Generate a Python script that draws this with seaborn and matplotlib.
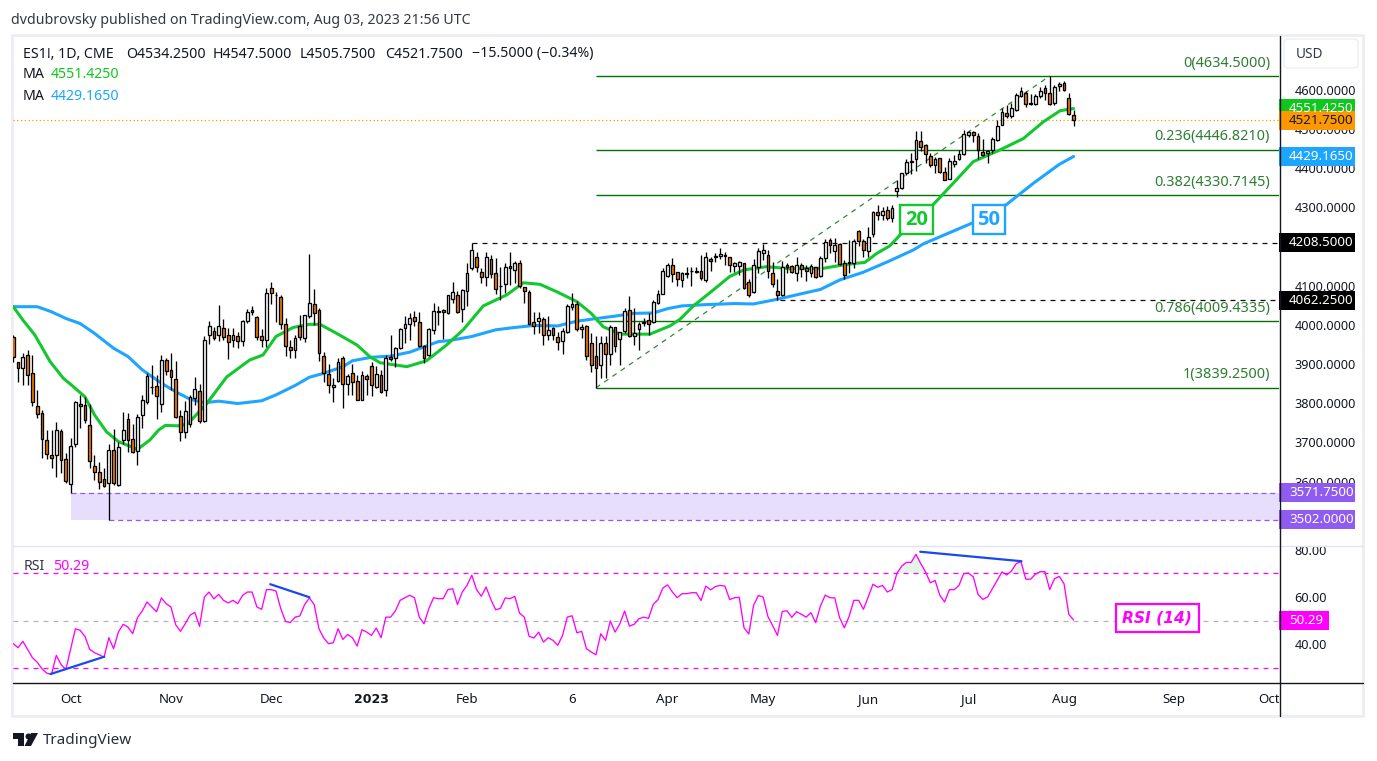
import numpy as np
import pandas as pd
import matplotlib
matplotlib.use("Agg")
import matplotlib.pyplot as plt
from matplotlib.patches import Rectangle, Circle, Polygon, FancyBboxPatch
from matplotlib.transforms import blended_transform_factory, Bbox
import seaborn as sns

opens = [3969,3904,3889,3922,3878,3792,3776,3705,3667,3667,
 3728,3657,3593,3695,3799,3794,3743,3639,3624,3606,
 3596,3680,3590,3705,3759,3708,3677,3769,3802,3840,
 3843,3797,3909,3884,3861,3766,3726,3748,3812,3830,
 3755,3973,3983,3973,3991,3975,3960,3970,3958,4009,
 4037,4019,3970,3960,4093,4077,4072,4003,3942,3935,
 3996,3965,4021,4053,4037,3919,3874,3840,3856,3914,
 3848,3876,3856,3809,3868,3894,3840,3871,3833,3917,
 3914,3940,3991,4001,4019,4006,3945,3924,3986,4034,
 4037,4029,4065,4075,4039,4085,4144,4174,4134,4123,
 4167,4131,4100,4103,4149,4139,4157,4095,4083,4006,
 4009,4014,3975,3991,3968,3958,3981,4046,4052,3988,
 3996,3953,3921,3896,3953,3925,3994,3963,3983,4037,
 3970,3988,4007,4011,4006,4056,4079,4125,4152,4134,
 4113,4131,4136,4135,4136,4115,4167,4175,4175,4177,
 4172,4151,4149,4157,4108,4083,4148,4184,4177,4131,
 4085,4075,4152,4149,4131,4152,4144,4131,4146,4124,
 4169,4215,4187,4205,4157,4157,4157,4238,4213,4187,
 4231,4287,4279,4292,4271,4340,4348,4386,4416,4422,
 4468,4458,4430,4408,4425,4389,4373,4411,4422,4435,
 4483,4491,4481,4440,4437,4445,4470,4509,4539,4533,
 4549,4583,4592,4565,4562,4583,4603,4592,4565,4608,4616,4578,4534.25]
closes = [3917,3889,3917,3872,3804,3772,3708,3669,3659,3731,
 3654,3601,3690,3802,3792,3756,3652,3624,3598,3588,
 3680,3596,3687,3731,3705,3675,3764,3807,3868,3841,
 3817,3909,3881,3866,3765,3726,3779,3815,3835,3754,
 3960,3998,3965,3998,3968,3955,3973,3958,4009,4032,
 4032,3968,3960,4080,4080,4075,4001,3945,3935,3965,
 3968,4024,4055,4029,3927,3878,3845,3847,3904,3848,
 3868,3853,3807,3871,3861,3845,3874,3828,3914,3912,
 3940,3988,4001,4016,4009,3945,3914,3988,4034,4032,
 4032,4075,4083,4032,4088,4131,4190,4146,4123,4174,
 4129,4090,4098,4146,4144,4157,4098,4085,4003,3998,
 4016,3975,3986,3975,3955,3983,4049,4052,3988,3993,
 3919,3896,3889,3953,3925,3994,3945,3981,4034,3970,
 3978,4001,4004,4001,4058,4079,4137,4152,4129,4116,
 4131,4129,4138,4136,4118,4172,4162,4172,4180,4175,
 4152,4157,4159,4093,4075,4152,4187,4190,4138,4105,
 4075,4148,4146,4134,4152,4141,4136,4149,4121,4169,
 4210,4203,4203,4154,4126,4159,4213,4213,4190,4225,
 4287,4279,4290,4272,4297,4348,4386,4414,4417,4470,
 4453,4435,4408,4422,4389,4368,4417,4417,4435,4486,
 4491,4483,4445,4432,4442,4473,4506,4542,4533,4552,
 4585,4595,4562,4562,4583,4595,4592,4562,4606,4613,4600,4537.25,4521.75]
highs = [3975,3906,3927,3935,3924,3833,3782,3731,3731,3751,
 3734,3672,3710,3805,3820,3816,3799,3668,3651,3634,
 3697,3733,3702,3777,3774,3746,3772,3821,3876,3896,
 3872,3923,3914,3927,3907,3782,3805,3822,3866,3848,
 3972,4009,3993,4050,4015,3991,3991,3982,4012,4039,
 4048,4022,3988,4093,4108,4084,4076,4016,3961,3975,
 4025,4025,4180,4090,4042,3931,3899,3863,3914,3919,
 3874,3899,3872,3883,3874,3906,3895,3885,3923,3973,
 3944,3991,4021,4029,4035,4032,3948,3991,4055,4048,
 4039,4076,4108,4087,4090,4158,4208.5,4186,4144,4186,
 4178,4169,4148,4157,4185,4163,4165,4097,4089,4033,
 4033,4019,4022,3995,3982,3991,4053,4080,4060,4003,
 3999,3978,3970,3971,3971,4000,3995,3982,4042,4073,
 4042,4008,4016,4029,4063,4089,4144,4157,4169,4135,
 4135,4146,4148,4148,4178,4185,4174,4182,4197,4186,
 4174,4161,4163,4157,4116,4167,4195,4206,4191,4161,
 4116,4162,4158,4152,4172,4157,4152,4155,4148,4175,
 4218,4220,4220,4209,4165,4216,4219,4242,4218,4250,
 4290,4305,4300,4303,4305,4369,4388,4422,4437,4493,
 4494,4461,4437,4429,4425,4402,4425,4433,4446,4497,
 4495,4495,4488,4475,4446,4480,4522,4552,4561,4566,
 4590,4607,4595,4588,4589,4607,4612,4634.5,4612,4620,4622,4592,4547.5]
lows = [3906,3855,3846,3846,3793,3761,3661,3657,3635,3612,
 3623,3597,3571.75,3687,3736,3750,3634,3604,3580,3587,
 3502,3591,3589,3696,3676,3672,3643,3737,3798,3823,
 3759,3778,3873,3833,3761,3704,3710,3740,3795,3750,
 3753,3952,3961,3959,3961,3913,3944,3940,3946,4004,
 4026,3961,3942,3944,4054,4008,3988,3921,3914,3914,
 3961,3957,4016,3999,3908,3855,3827,3804,3853,3788,
 3821,3821,3807,3808,3821,3817,3838,3825,3819,3908,
 3893,3937,3954,3961,3997,3942,3903,3919,3976,3999,
 3964,4027,4055,4029,4008,4049,4140,4135,4106,4100,
 4118,4078,4062,4080,4101,4106,4093,4056,4002,3977,
 3978,3948,3961,3961,3936,3925,3978,4038,3985,3965,
 3910,3880,3839.25,3864,3865,3896,3931,3897,3978,3968,
 3948,3936,3997,3974,4004,4053,4078,4123,4110,4100,
 4097,4118,4099,4131,4114,4109,4138,4161,4167,4152,
 4135,4135,4127,4091,4070,4080,4131,4165,4118,4097,
 4062.25,4073,4131,4131,4112,4121,4112,4121,4119,4121,
 4161,4182,4161,4152,4116,4131,4144,4201,4174,4174,
 4225,4267,4267,4267,4263,4327,4346,4382,4384,4393,
 4442,4412,4403,4386,4386,4368,4372,4402,4420,4434,
 4480,4467,4422,4431,4412,4439,4469,4509,4527,4527,
 4546,4580,4556,4561,4561,4578,4573,4561,4561,4595,4595,4535,4505.75]

ma50_bars = [1,6,9,12,15,18,22,25,28,32,35,38,41,44,48,53,56,60,63,66,70,72,76,80,84,90,92,97,102,106,110,115,119,122,127,131,135,138,141,145.5,152,156,161,166,170,174,179,184.5,189.5,191.5,201.7,209,214.6,220,223]
ma50_vals = [4046,4046,4033,4016,4003,3978,3940,3919,3885,3851,3829,3810,3801,3805,3799,3806,3821,3845,3866,3876,3893,3908,3917,3920,3930,3957,3959,3970,3987,3993,3998,3997,4009,4014,4022,4029,4030,4041,4048,4051,4054,4053,4065,4079,4090,4114,4134,4163,4191,4206,4259,4307,4361,4409,4429.165]
ma20_bars = [1,3,5.5,8.7,11.5,13.2,16,18,20.5,23,27,29.6,31.4,32.8,35.9,37.6,41.5,45.7,50.5,53.3,56,59.6,63,65.2,68.7,73,75.7,77.8,83.4,87.5,91.7,95.2,99.4,104.3,107.8,111.3,114.8,119,122,124.5,128,134.3,138.5,140.6,143.4,147.6,151,154,158.7,163.6,170.6,175.5,179.3,181.8,184.5,187,193.5,197.8,202,207.6,212.5,216.7,220.2,223]
ma20_vals = [4046,4012,3974,3906,3863,3846,3816,3770,3727,3702,3682,3706,3731,3743,3742,3748,3799,3867,3910,3923,3970,3993,4001,4001,3978,3948,3918,3903,3893,3908,3948,3987,4048,4076,4107,4103,4084,4059,4029,3995,3976,3976,3997,4014,4048,4089,4123,4140,4148,4143,4144,4154,4159,4182,4201,4233,4305,4361,4416,4446,4475,4518,4546,4551.425]

rsi_vals = [40.3,38.6,41.3,37.9,34.4,32.5,29.7,27.9,27.3,35.4,31.5,29.4,38.0,46.6,45.9,43.4,37.9,36.5,35.6,34.6,
 42.8,38.2,45.2,48.5,47.3,44.5,51.3,54.1,57.9,55.8,53.8,59.6,57.2,55.8,48.3,45.5,48.7,52.3,53.5,47.6,
 60,62.1,59.2,61.1,58.6,57.5,58.6,57.2,60.7,62.1,62.1,55.8,54.8,63.1,63.1,62.5,55.1,49.7,49.2,51.5,
 52,56.8,59.6,56.8,46.6,42.7,40.3,40.7,46.6,42.1,44.2,42.8,39.3,46.2,45.2,43.8,46.9,42.8,51.5,51.5,
 54.1,58.6,59.7,60.7,59.7,51.5,48.7,55.1,59.7,59.3,59.3,63.1,
 63.5,56.8,62.1,64.9,69.2,63.1,60.3,64.2,58.9,54.6,55.2,59.6,59.3,60.3,53.2,51.5,43.4,42.7,45.2,41,
 42.8,41.7,39.6,43.8,51.5,52.1,44.9,45.5,38.2,36.8,35.6,44.5,41.7,49.9,45.2,48.7,54.1,47.7,48.5,50.8,
 51.5,51,56.9,58.9,63.8,65.1,62.1,59.7,61.4,61.4,61.8,61.8,58.5,64.6,63,64.4,64.9,64.6,58.9,59.7,
 59.9,47,44.4,56.5,60.6,60,51.8,47.9,43.8,53.9,54.2,51.4,53.8,52.7,51.5,53.4,49.2,56.2,60.8,59.7,
 59.6,51.3,47,51.8,58.6,58.6,54.8,60,65.4,64.1,64.9,62.1,63.1,
 69.9,73,74.6,74.6,78,74.1,70.6,66,67,60.7,57.9,63.1,63.1,64.9,69.9,70.1,68.5,61.1,59,60,
 63.5,67,70.6,69.3,71,74.1,74.9,67.5,67.5,69.6,70.7,70.7,63.1,67.7,68.7,65.6,52.7,50.29]

fib_levels = [4634.5, 4446.821, 4330.7145, 4009.4335, 3839.25]
fib_labels = ["0(4634.5000)", "0.236(4446.8210)", "0.382(4330.7145)", "0.786(4009.4335)", "1(3839.2500)"]
price_ticks = [3600,3700,3800,3900,4000,4100,4200,4300,4400,4500,4600]
rsi_ticks = [40,60,80]
month_bars = [12,33,54,75,95,117,137,157,179,200,220,243,263]
month_labels = ["Oct","Nov","Dec","2023","Feb","6","Apr","May","Jun","Jul","Aug","Sep","Oct"]

FONT = ["Noto Sans", "DejaVu Sans"]
sns.set_theme(style="white")
plt.rcParams["font.family"] = FONT
plt.rcParams["text.color"] = "#131722"

W, H = 1377, 761
fig = plt.figure(figsize=(W/100, H/100), dpi=100, facecolor="white")
def fx(x): return x/W
def fy(y): return 1-y/H
def rect(x0, y0, x1, y1): return [fx(x0), fy(y1), fx(x1-x0), fy(y0)-fy(y1)]

LEFT, RIGHT = 13, 1279
ax = fig.add_axes(rect(LEFT, 36, RIGHT, 545))
axr = fig.add_axes(rect(LEFT, 547, RIGHT, 683))
STEP = 4.776
xlim = ((LEFT-13.3)/STEP, (RIGHT-13.3)/STEP)
PX = 0.392
ax.set_xlim(*xlim)
ax.set_ylim(4634.5-(545-76)/PX, 4634.5+(76-36)/PX)
RPX = 2.37
axr.set_xlim(*xlim)
axr.set_ylim(70-(683-573.3)/RPX, 70+(573.3-547)/RPX)

df = pd.DataFrame({"o":opens,"h":highs,"l":lows,"c":closes})
df["bar"] = np.arange(len(df))
up = df.c >= df.o
ORANGE = "#F57C00"
GREEN = "#13C82F"; BLUE = "#1EA5FF"; MAG = "#FF00FF"; PUR = "#8F5BF0"; FIB = "#067006"; FIBT="#2E7D32"

# purple zone
ax.fill_between([12, xlim[1]], 3502, 3571.75, color="#E7DDFC", lw=0, zorder=1)
ax.hlines(3571.75, 12, xlim[1], color=PUR, lw=0.9, ls=(0,(4,3)), zorder=1.2)
ax.hlines(3502, 20, xlim[1], color=PUR, lw=0.9, ls=(0,(4,3)), zorder=1.2)
# fib
for lv, lb in zip(fib_levels, fib_labels):
    ax.hlines(lv, 122, xlim[1], color=FIB, lw=1.0, zorder=1.3)
    ax.annotate(lb, xy=(1-9/1266, lv), xycoords=ax.get_yaxis_transform(), xytext=(0,13), textcoords="offset pixels",
                ha="right", va="center", color=FIBT, fontsize=10.4)
sns.lineplot(x=[122, 217], y=[fib_levels[-1], fib_levels[0]], ax=ax, color="#2E8B3A", lw=0.9, ls=(0,(4,4)), zorder=1.3)
# black dashed
ax.hlines(4208.5, 96, xlim[1], color="#111111", lw=0.9, ls=(0,(4,4)), zorder=1.3)
ax.hlines(4062.25, 160.5, xlim[1], color="#111111", lw=0.9, ls=(0,(4,4)), zorder=1.3)
ax.axhline(4521.75, color="#FF9800", lw=0.9, ls=(0,(1,2)), zorder=1.3)

# MAs
sns.lineplot(x=np.array(ma50_bars)-1, y=ma50_vals, ax=ax, color=BLUE, lw=2.2, zorder=2, estimator=None, sort=False)
sns.lineplot(x=np.array(ma20_bars)-1, y=ma20_vals, ax=ax, color=GREEN, lw=2.2, zorder=2.1, estimator=None, sort=False)

# candles
ax.vlines(df.bar, df.l, df.h, color="black", lw=0.95, zorder=3)
ax.bar(df.bar, (df.c-df.o).abs().clip(lower=0.5), bottom=df[["o","c"]].min(axis=1), width=0.58,
       color=np.where(up, "white", ORANGE), edgecolor="black", linewidth=0.95, zorder=3.1)

# annotation boxes
for bx, lab, col in [(189.1, "20", GREEN), (204.3, "50", BLUE)]:
    ax.text(bx, 4268.4, lab, color=col, fontsize=14.5, fontweight="bold", family="Open Sans", ha="center", va="center", zorder=6,
            bbox=dict(boxstyle="square,pad=0.24", fc="white", ec=col, lw=1.7))

# RSI
rb = np.arange(len(rsi_vals))
rv = np.array(rsi_vals)
axr.fill_between(rb, 70, rv, where=rv>=70, interpolate=True, color="#DDF3DF", alpha=.8, lw=0, zorder=1)
axr.axhline(70, color=MAG, lw=0.9, ls=(0,(4,4)), zorder=1)
axr.axhline(30, color=MAG, lw=0.9, ls=(0,(4,4)), zorder=1)
axr.axhline(50, color="#B2B5BE", lw=0.9, ls=(0,(4,4)), zorder=1)
sns.lineplot(x=rb, y=rv, ax=axr, color=MAG, lw=0.95, zorder=2)
for xs, ys in [((7.8,19.05),(27.5,34.8)),((53.8,62),(65.4,59.9)),((189.9,211.1),(79.1,75.1))]:
    sns.lineplot(x=list(xs), y=list(ys), ax=axr, color="#1848F0", lw=1.6, zorder=3)
axr.text(239.5, 51.3, "RSI (14)", color=MAG, fontsize=11.2, fontstyle="italic", fontweight="bold", family="DejaVu Sans",
         ha="center", va="center", zorder=6, bbox=dict(boxstyle="square,pad=0.42", fc="white", ec=MAG, lw=1.6))

# axis formatting
for a in (ax, axr):
    for s in a.spines.values():
        s.set_visible(False)
    a.grid(False)
    a.set_xlabel(""); a.set_ylabel("")
    a.patch.set_alpha(0)
    a.yaxis.tick_right()
ax.set_xticks([])
ax.set_yticks(price_ticks, [f"{v}.0000" for v in price_ticks])
ax.tick_params(axis="y", length=0, pad=11, labelsize=9.1, labelcolor="#131722")
axr.set_yticks(rsi_ticks, [f"{v}.00" for v in rsi_ticks])
axr.tick_params(axis="y", length=0, pad=11, labelsize=9.1, labelcolor="#131722")
axr.set_xticks(month_bars, month_labels)
axr.tick_params(axis="x", length=0, pad=7.5, labelsize=9.6, labelcolor="#131722")
for t, lb in zip(axr.get_xticklabels(), month_labels):
    if lb == "2023":
        t.set_fontweight("bold"); t.set_family("DejaVu Sans"); t.set_fontsize(9)
axr.get_xticklabels()[-1].set_clip_on(True)
axr.get_xticklabels()[-1].set_clip_box(Bbox.from_extents(0, 0, RIGHT, H))

# price tags
def tag(a, val, txt, fc, tc, pxu, w=76):
    tr = blended_transform_factory(a.transAxes, a.transData)
    a.add_patch(Rectangle((1, val-9.5/pxu), w/1266, 19/pxu, transform=tr, fc=fc, ec="none", clip_on=False, zorder=8))
    a.text(1+10/1266, val, txt, transform=tr, color=tc, ha="left", va="center", fontsize=9.6, clip_on=False, zorder=9)
tag(ax, 4551.425, "4551.4250", "#0FC81E", "white", PX)
tag(ax, 4521.75, "4521.7500", "#FF9800", "#131722", PX)
tag(ax, 4429.165, "4429.1650", BLUE, "white", PX)
tag(ax, 4208.5, "4208.5000", "#000000", "white", PX)
tag(ax, 4062.25, "4062.2500", "#000000", "white", PX)
tag(ax, 3571.75, "3571.7500", PUR, "white", PX)
tag(ax, 3502, "3502.0000", PUR, "white", PX)
tag(axr, 50.29, "50.29", MAG, "white", RPX, w=50)

# frame and separators (figure level)
FR = "#ECEEF3"
fig.add_artist(Rectangle((fx(12), fy(716)), fx(1363-12), fy(35)-fy(716), transform=fig.transFigure, fc="none", ec=FR, lw=2.0, zorder=-1))
fig.add_artist(plt.Line2D([fx(13), fx(1363)], [fy(545.5)]*2, color="#E3E5EC", lw=1.0))
fig.add_artist(plt.Line2D([fx(13), fx(1363)], [fy(683)]*2, color="#131722", lw=1.0))
fig.add_artist(plt.Line2D([fx(1279.5)]*2, [fy(36), fy(716)], color="#131722", lw=1.0))

# texts
def ftext(x, y, s, **k):
    k.setdefault("fontsize", 10.2); k.setdefault("color", "#131722")
    return fig.text(fx(x), fy(y), s, ha=k.pop("ha","left"), va="center", **k)
ftext(11, 20.5, "dvdubrovsky published on TradingView.com, Aug 03, 2023 21:56 UTC", color="#333844")
ftext(23, 54, "ES1!, 1D, CME")
ftext(126, 54, "O4534.2500"); ftext(213, 54, "H4547.5000"); ftext(300, 54, "L4505.7500"); ftext(385, 54, "C4521.7500")
ftext(472, 54, "\u221215.5000 (\u22120.34%)")
ftext(23, 75, "MA"); ftext(51, 75, "4551.4250", color="#0FC81E")
ftext(23, 96, "MA"); ftext(51, 96, "4429.1650", color=BLUE)
ftext(24, 567, "RSI", color="#333844"); ftext(53, 567, "50.29", color=MAG)
fig.add_artist(FancyBboxPatch((fx(1284), fy(68)), fx(74), fy(39)-fy(68), boxstyle="round,pad=0,rounding_size=0.004",
               transform=fig.transFigure, fc="white", ec=FR, lw=1.0))
ftext(1296, 54, "USD", color="#333844", fontsize=9.8)

# TradingView mark
fig.add_artist(Polygon([[fx(13),fy(733)],[fx(24),fy(733)],[fx(24),fy(746)],[fx(18),fy(746)],[fx(18),fy(738.5)],[fx(13),fy(738.5)]],
               transform=fig.transFigure, fc="#131722", ec="none"))
fig.add_artist(Polygon([[fx(31),fy(733)],[fx(38),fy(733)],[fx(31),fy(746)],[fx(24.5),fy(746)]],
               transform=fig.transFigure, fc="#131722", ec="none"))
fig.add_artist(plt.Line2D([fx(27.5)],[fy(735.5)], marker="o", ms=3.3, color="#131722", lw=0))
ftext(43, 740, "TradingView", fontsize=11, color="#2A2E39")

fig.savefig("out.png", dpi=100)
